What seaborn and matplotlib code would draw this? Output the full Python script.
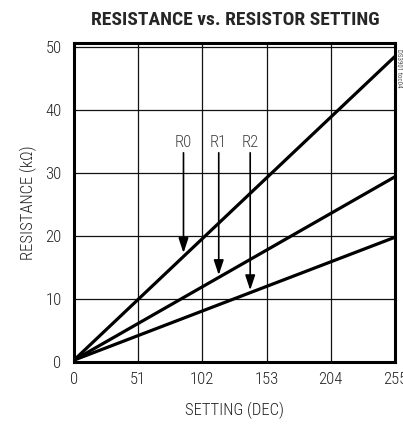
import pandas as pd
import seaborn as sns
import matplotlib.pyplot as plt

setting = [0, 255]
r0 = [0.3, 48.5]
r1 = [0.3, 29.4]
r2 = [0.3, 19.8]
names = ["R0", "R1", "R2"]
arrow_x = [87, 115, 140]
arrow_tip = [17.3, 13.8, 11.4]
label_y = 34.9
xticks = [0, 51, 102, 153, 204, 255]
yticks = [0, 10, 20, 30, 40, 50]

df = pd.DataFrame({"setting": setting * 3,
                   "res": r0 + r1 + r2,
                   "name": ["R0"] * 2 + ["R1"] * 2 + ["R2"] * 2})

sns.set_style("white")
plt.rcParams["font.family"] = ["Roboto Condensed", "DejaVu Sans"]

fig = plt.figure(figsize=(4.03, 4.24), dpi=100)
ax = fig.add_axes([0.1836, 0.1462, 0.7964, 0.7524])
sns.lineplot(data=df, x="setting", y="res", units="name", estimator=None,
             color="black", linewidth=2.3, ax=ax, legend=False)

for n, x, tip in zip(names, arrow_x, arrow_tip):
    ax.annotate("", xy=(x, tip), xytext=(x, label_y - 1.7),
                arrowprops=dict(arrowstyle="-|>,head_width=0.3,head_length=0.9",
                                color="black", lw=1.2, shrinkA=0, shrinkB=0))
    ax.text(x, label_y, n, ha="center", va="center", fontsize=12,
            color="#444444", fontweight="light")

ax.set_xlim(0, 255)
ax.set_ylim(0, 50.63)
ax.set_xticks(xticks)
ax.set_yticks(yticks)
ax.grid(True, color="#111111", linewidth=0.9)
for s in ax.spines.values():
    s.set_linewidth(2.2)
    s.set_color("black")
ax.tick_params(length=0, labelsize=12, colors="#222222")
ax.tick_params(axis="y", pad=9)
ax.tick_params(axis="x", pad=7)
for lab in ax.get_xticklabels() + ax.get_yticklabels():
    lab.set_fontweight("light")
    lab.set_clip_on(False)
ax.set_xlabel("SETTING (DEC)", fontsize=12, color="#222222",
              fontweight="light", labelpad=11)
ax.set_ylabel("RESISTANCE (kΩ)", fontsize=12, color="#222222",
              fontweight="light", labelpad=6)
fig.suptitle("RESISTANCE vs. RESISTOR SETTING", x=0.583, y=0.975,
             fontsize=14, fontweight="black")
fig.text(0.99, 0.885, "DS3901 toc04", rotation=-90, fontsize=5,
         color="#555555", ha="center", va="top")

plt.savefig("out.png", dpi=100)
